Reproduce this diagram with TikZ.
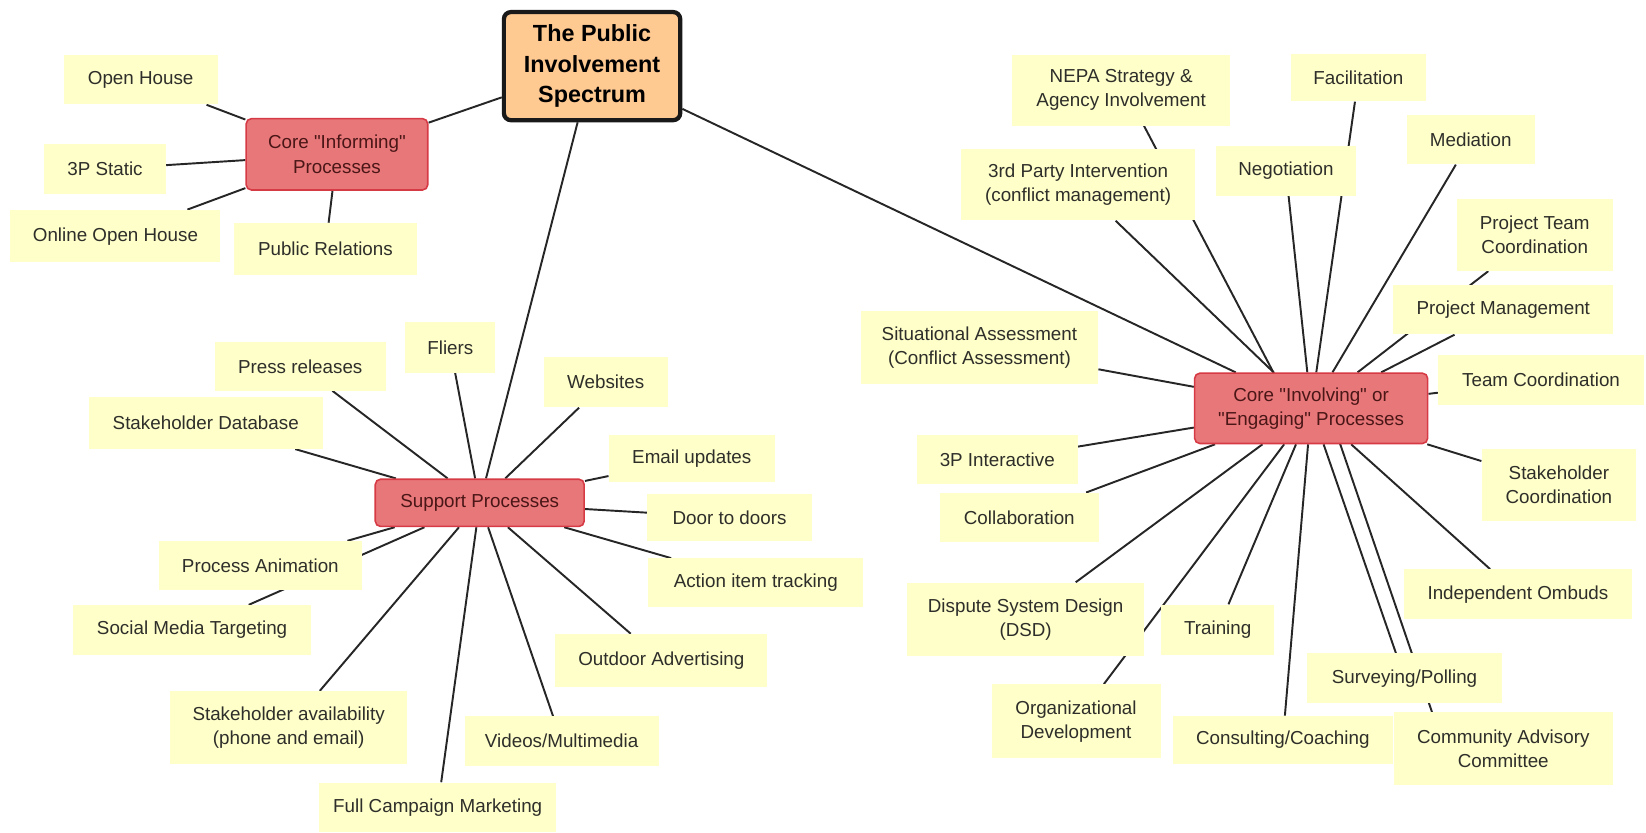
\documentclass[tikz,border=0pt]{standalone}
\usepackage{fontspec}
\setmainfont{Liberation Sans}
\usetikzlibrary{backgrounds,calc}
\definecolor{pisPeach}{HTML}{FFC992}
\definecolor{pisRed}{HTML}{E8777A}
\definecolor{pisRedLine}{HTML}{D63A45}
\definecolor{pisYellow}{HTML}{FFFFCA}
\definecolor{pisInk}{HTML}{2E2E2A}
\definecolor{pisHubInk}{HTML}{4A1616}
\def\px{0.021cm}
\def\dq{\textquotedbl}
\tikzset{
  pis link/.style={draw=black!85, line width=1.1pt},
  pis leaf/.style={rectangle, fill=pisYellow, text=pisInk, align=center, inner sep=0pt, font=\fontsize{10.7}{13.7}\selectfont},
  pis hub/.style={rectangle, rounded corners=3pt, draw=pisRedLine, fill=pisRed, line width=0.9pt, text=pisHubInk, align=center, inner sep=0pt, font=\fontsize{10.7}{13.7}\selectfont},
  pis root/.style={rectangle, rounded corners=4pt, draw=black!90, fill=pisPeach, line width=2.4pt, align=center, inner sep=0pt, font=\bfseries\fontsize{13.3}{17.3}\selectfont},
}

\begin{document}
\begin{tikzpicture}[x=\px, y=-\px]
  \useasboundingbox (0,0) rectangle (1568,793);

  % Root and the three hubs
  \node[pis root, minimum width=168*\px, minimum height=103*\px] (root) at (564,63) {The Public\\Involvement\\Spectrum};
  \node[pis hub, minimum width=173*\px, minimum height=68*\px] (inf) at (321,147) {Core \dq Informing\dq\\Processes};
  \node[pis hub, minimum width=199*\px, minimum height=45*\px] (sup) at (457,479) {Support Processes};
  \node[pis hub, minimum width=222*\px, minimum height=67*\px] (inv) at (1249,389) {Core \dq Involving\dq{} or\\\dq Engaging\dq{} Processes};

  % Left: informing leaves
  \foreach \nm/\pos/\w/\h/\txt in {
    oh/{134,76}/147/47/{Open House},
    ps/{100,161}/116/48/{3P Static},
    ooh/{110,225}/200/50/{Online Open House},
    pr/{310,237}/174/49/{Public Relations}} {
    \node[pis leaf, minimum width=\w*\px, minimum height=\h*\px] (\nm) at (\pos) {\txt};
  }

  % Bottom left: support leaves
  \foreach \nm/\pos/\w/\h/\txt in {
    prs/{286,349}/163/46/{Press releases},
    fl/{429,331}/86/48/{Fliers},
    web/{577,364}/118/48/{Websites},
    sdb/{196,403}/223/49/{Stakeholder Database},
    eml/{659,437}/158/45/{Email updates},
    dtd/{695,493}/157/45/{Door to doors},
    ait/{720,555}/205/46/{Action item tracking},
    pa/{248,539}/194/47/{Process Animation},
    smt/{183,600}/226/47/{Social Media Targeting},
    oda/{630,629}/202/50/{Outdoor Advertising},
    sav/{275,693}/226/69/{Stakeholder availability\\(phone and email)},
    vid/{535,706}/185/47/{Videos/Multimedia},
    fcm/{417,769}/226/47/{Full Campaign Marketing}} {
    \node[pis leaf, minimum width=\w*\px, minimum height=\h*\px] (\nm) at (\pos) {\txt};
  }

  % Right: involving leaves
  \foreach \nm/\pos/\w/\h/\txt in {
    nepa/{1068,86}/207/68/{NEPA Strategy \&\\Agency Involvement},
    fac/{1294,74}/129/45/{Facilitation},
    med/{1401,133}/122/47/{Mediation},
    tpi/{1027,176}/223/68/{3rd Party Intervention\\(conflict management)},
    neg/{1225,163}/134/47/{Negotiation},
    ptc/{1462,224}/149/68/{Project Team\\Coordination},
    pm/{1432,295}/210/47/{Project Management},
    sit/{933,331}/226/69/{Situational Assessment\\(Conflict Assessment)},
    tc/{1468,362}/196/47/{Team Coordination},
    tpx/{950,438}/153/47/{3P Interactive},
    sc/{1485,462}/147/69/{Stakeholder\\Coordination},
    col/{971,493}/152/47/{Collaboration},
    iom/{1446,566}/217/47/{Independent Ombuds},
    dsd/{977,590}/226/70/{Dispute System Design\\(DSD)},
    trn/{1160,600}/108/48/{Training},
    svp/{1338,646}/185/47/{Surveying/Polling},
    odv/{1025,687}/161/70/{Organizational\\Development},
    cc/{1222,705}/210/46/{Consulting/Coaching},
    cac/{1432,713}/209/70/{Community Advisory\\Committee}} {
    \node[pis leaf, minimum width=\w*\px, minimum height=\h*\px] (\nm) at (\pos) {\txt};
  }

  % Spokes, drawn behind the boxes
  \begin{pgfonlayer}{background}
    \foreach \nm in {inf,sup,inv}
      \draw[pis link] (root) -- (\nm);
    \foreach \nm in {oh,ps,ooh,pr}
      \draw[pis link] (inf) -- (\nm);
    \foreach \nm in {prs,fl,web,sdb,eml,dtd,ait,pa,smt,oda,sav,vid,fcm}
      \draw[pis link] (sup) -- (\nm);
    \foreach \nm in {fac,med,tpi,neg,ptc,pm,sit,tc,tpx,sc,col,iom,dsd,trn,svp,odv,cc}
      \draw[pis link] (inv) -- (\nm);
    \draw[pis link] ($(inv)+(-18,0)$) -- ($(nepa)+(4,0)$);
    \draw[pis link] ($(inv)+(16,0)$) -- ($(cac)+(-56,0)$);
  \end{pgfonlayer}
\end{tikzpicture}
\end{document}
